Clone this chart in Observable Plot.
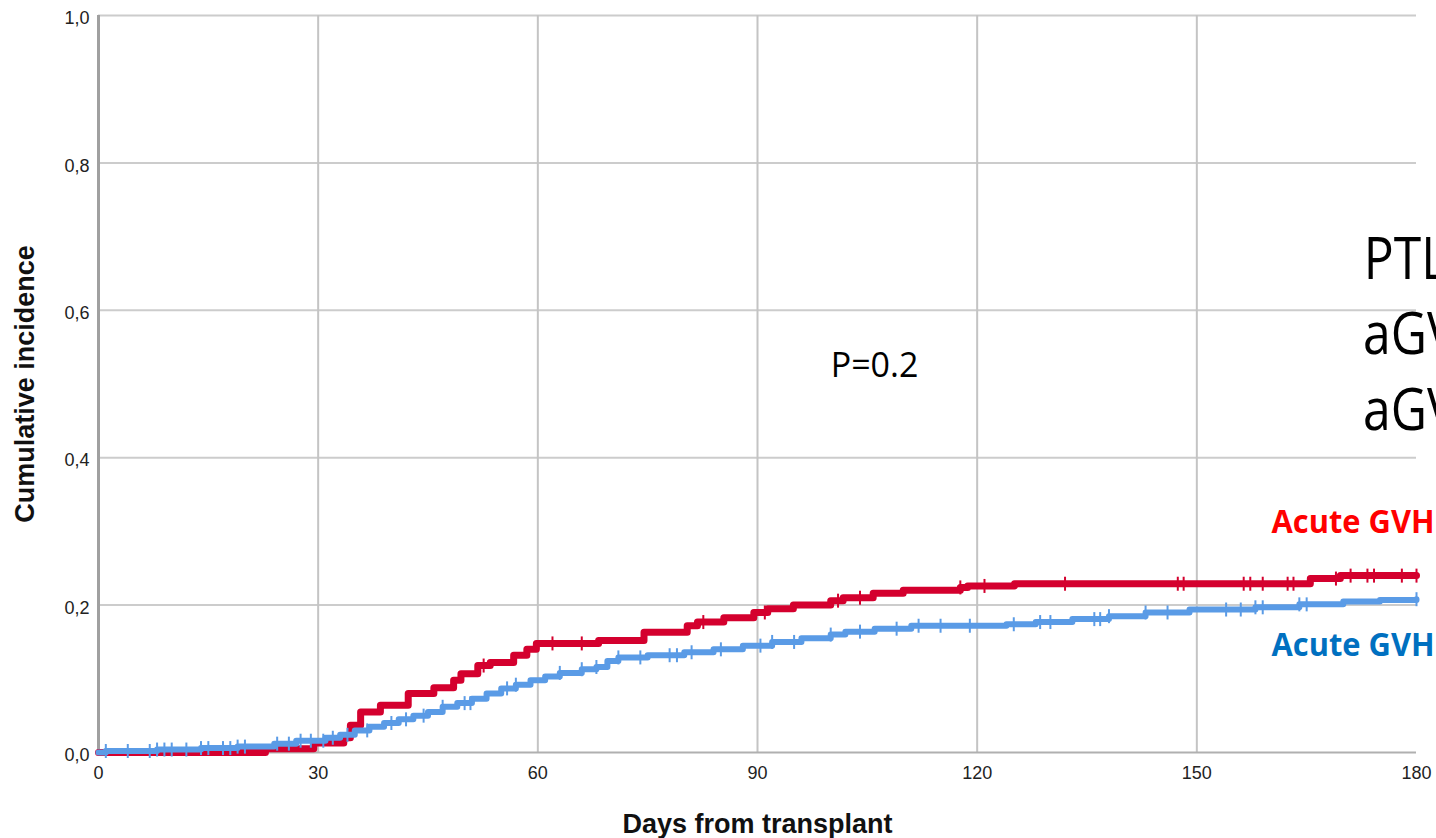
<!DOCTYPE html>
<html><head><meta charset="utf-8">
<script src="https://cdn.jsdelivr.net/npm/d3@7"></script>
<script src="https://cdn.jsdelivr.net/npm/@observablehq/plot@0.6"></script>
<style>html,body{margin:0;padding:0;overflow:hidden;background:#fff} svg{overflow:hidden}</style>
</head><body><div id="chart"></div>
<script>
const xTicks = [0, 30, 60, 90, 120, 150, 180];
const xGrid = [30, 60, 90, 120, 150];
const yTicks = [0, 0.2, 0.4, 0.6, 0.8, 1.0];
const yGrid = [0.2, 0.4, 0.6, 0.8, 1.0];
const yTickLabels = ["0,0", "0,2", "0,4", "0,6", "0,8", "1,0"];

const redDays = [0, 22.8, 29.4, 33.5, 34.4, 35.8, 38.5, 42.3, 45.8, 48.5, 49.5, 51.8, 53.5, 56.7, 58.5, 59.8, 68.3, 74.5, 80.4, 81.8, 85.4, 89.5, 91.4, 94.9, 100, 101.7, 105.8, 109.9, 117.7, 118.7, 125.1, 165.5, 169.6, 180];
const redValues = [0, 0.005, 0.013, 0.02, 0.037, 0.055, 0.064, 0.08, 0.088, 0.098, 0.107, 0.118, 0.122, 0.132, 0.14, 0.148, 0.152, 0.163, 0.172, 0.177, 0.183, 0.19, 0.195, 0.2, 0.206, 0.21, 0.216, 0.22, 0.224, 0.226, 0.229, 0.236, 0.24, 0.24];
const redCensor = [52.6, 62, 66, 82.6, 91, 101, 104, 117.7, 121, 132, 147.4, 148.2, 156.4, 157.3, 159, 162.4, 163.2, 169, 171, 173.3, 174.2, 178, 180];

const blueDays = [0, 1, 8, 14, 19, 24, 27, 31, 33, 35, 37, 39, 41, 43, 45, 47, 49, 51, 53, 55, 57, 59, 61, 63, 66, 68, 69.5, 71, 75, 80, 84, 88, 92, 96, 100, 102, 106, 111, 124, 128, 133, 138, 143, 149, 158, 164, 170, 175, 180];
const blueValues = [0, 0.002, 0.004, 0.006, 0.008, 0.012, 0.016, 0.02, 0.024, 0.03, 0.035, 0.04, 0.045, 0.05, 0.055, 0.062, 0.067, 0.073, 0.08, 0.087, 0.092, 0.098, 0.103, 0.108, 0.113, 0.116, 0.124, 0.129, 0.132, 0.136, 0.14, 0.145, 0.15, 0.155, 0.16, 0.164, 0.168, 0.172, 0.174, 0.177, 0.181, 0.185, 0.19, 0.194, 0.197, 0.201, 0.205, 0.207, 0.208];
const blueCensor = [1, 4, 7, 8, 9, 10, 12, 14, 15, 17, 18, 19, 20, 24.4, 26, 27.6, 29, 30.7, 32, 34, 36.7, 40, 42, 44.4, 47, 50, 50.8, 55.8, 57, 63, 66, 68, 71, 74, 78, 79, 81, 85, 90.4, 92, 95, 100, 104, 109, 112, 115, 119, 125, 128.6, 130, 136, 136.8, 138, 143, 146, 154, 156, 158, 159, 164, 165, 180];

const bigLabels = ["PTL", "aGV", "aGV"];
const bigLabelDays = [172.8, 172.7, 172.7];
const bigLabelValues = [0.643, 0.541, 0.437];
const groupLabels = ["Acute GVH", "Acute GVH"];
const groupLabelValues = [0.2985, 0.1316];
const groupLabelColors = ["#ff0000", "#0070c0"];
const groupLabelDay = 160.2;
const pLabel = "P=0.2";
const pLabelDay = 100;
const pLabelValue = 0.509;

const redColor = "#d4002e";
const blueColor = "#5a9be6";

function stepAt(days, vals, t) {
  let v = vals[0];
  for (let i = 0; i < days.length; i++) if (days[i] <= t) v = vals[i];
  return v;
}
const red = redDays.map((d, i) => ({x: d, y: redValues[i]}));
const blue = blueDays.map((d, i) => ({x: d, y: blueValues[i]}));
const redC = redCensor.map(d => ({x: d, y: stepAt(redDays, redValues, d)}));
const blueC = blueCensor.map(d => ({x: d, y: stepAt(blueDays, blueValues, d)}));

const vbar = {draw(ctx, size) { const r = Math.sqrt(size / Math.PI); ctx.moveTo(0, -r); ctx.lineTo(0, r); }};

const W = 1436;
const chart = Plot.plot({
  width: W,
  height: 838,
  marginLeft: 98,
  marginRight: 20,
  marginTop: 15,
  marginBottom: 86,
  style: {fontFamily: "'Liberation Sans', Arial, sans-serif", background: "#fff"},
  x: {domain: [0, 180]},
  y: {domain: [0, 1]},
  marks: [
    Plot.gridY(yGrid, {stroke: "#cccccc", strokeWidth: 2, strokeOpacity: 1}),
    Plot.gridX(xGrid, {stroke: "#c4c4c4", strokeWidth: 2, strokeOpacity: 1}),
    Plot.ruleY([0], {stroke: "#b0b0b0", strokeWidth: 2}),
    Plot.ruleX([0], {stroke: "#a0a0a0", strokeWidth: 3}),
    Plot.axisX(xTicks, {tickSize: 0, tickPadding: 14, fontSize: 18, fill: "#222", label: null}),
    Plot.axisY(yTicks, {tickSize: 0, tickPadding: 9, dy: 3, fontSize: 18, fill: "#222", label: null,
      tickFormat: (d) => yTickLabels[yTicks.indexOf(d)]}),
    Plot.line(red, {x: "x", y: "y", curve: "step-after", stroke: redColor, strokeWidth: 7}),
    Plot.dot(redC, {x: "x", y: "y", symbol: vbar, r: 7, fill: "none", stroke: redColor, strokeWidth: 2}),
    Plot.line(blue, {x: "x", y: "y", curve: "step-after", stroke: blueColor, strokeWidth: 6}),
    Plot.dot(blueC, {x: "x", y: "y", symbol: vbar, r: 7, fill: "none", stroke: blueColor, strokeWidth: 2}),
    Plot.text([pLabel], {x: pLabelDay, y: pLabelValue, text: d => d, textAnchor: "start", lineAnchor: "bottom",
      fontSize: 34, fontFamily: "'Open Sans', sans-serif", fill: "#000"}),
    Plot.text(bigLabels, {x: (d, i) => bigLabelDays[i], y: (d, i) => bigLabelValues[i], text: d => d,
      textAnchor: "start", lineAnchor: "bottom", fontSize: 58, fontFamily: "'Open Sans', sans-serif", fill: "#000"}),
    Plot.text(groupLabels, {x: groupLabelDay, y: (d, i) => groupLabelValues[i], text: d => d,
      fill: (d, i) => groupLabelColors[i], textAnchor: "start", lineAnchor: "bottom", fontSize: 32,
      fontWeight: "bold", fontFamily: "'Open Sans', sans-serif"}),
    Plot.text(["Cumulative incidence"], {frameAnchor: "left", textAnchor: "middle", rotate: -90, dx: -65, lineAnchor: "bottom",
      text: d => d, fontSize: 27, fontWeight: "bold", fill: "#111"}),
    Plot.text(["Days from transplant"], {frameAnchor: "bottom", dy: 80, lineAnchor: "bottom",
      text: d => d, fontSize: 27, fontWeight: "bold", fill: "#111"})
  ]
});
document.getElementById("chart").appendChild(chart);

// narrow the right-hand labels to a Calibri-like width (the source slide font)
const xs = chart.scale("x");
const groupStart = xs.apply(groupLabelDay);
d3.select(chart).selectAll("text").each(function() {
  const t = this.textContent;
  if (this.childElementCount !== 0) return;
  if (bigLabels.includes(t)) {
    const len = this.getComputedTextLength();
    this.setAttribute("textLength", (len * 0.86).toFixed(1));
    this.setAttribute("lengthAdjust", "spacingAndGlyphs");
  } else if (groupLabels.includes(t)) {
    const avail = W - 2 - groupStart;
    const len = this.getComputedTextLength();
    if (len > avail) {
      this.setAttribute("textLength", avail.toFixed(1));
      this.setAttribute("lengthAdjust", "spacingAndGlyphs");
    }
  }
});
</script>
</body></html>
